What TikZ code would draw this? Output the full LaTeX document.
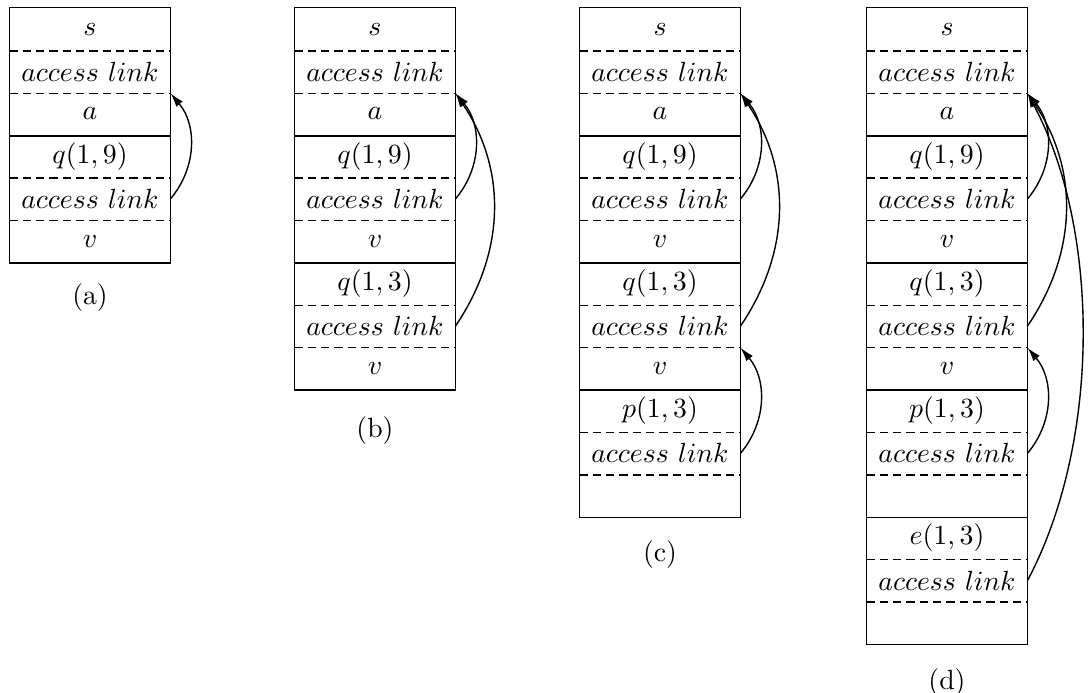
\documentclass[tikz,border=0pt]{standalone}
\usepackage{amsmath}
\usetikzlibrary{arrows.meta,positioning}

\tikzset{
  cell/.style={minimum width=57.6pt,minimum height=15.26pt,inner sep=0pt},
  sep/.style={dash pattern=on 3pt off 1.8pt,line width=0.5pt},
  frame/.style={line width=0.6pt},
  link/.style={-{Latex[length=5pt,width=3pt]},line width=0.5pt}
}

\begin{document}
\begin{tikzpicture}[x=0.36pt,y=0.36pt]
    \useasboundingbox (0,0) rectangle (1090,-692);

    % Stack (a)
    \foreach \txt [count=\i] in {$s$,$access\ link$,$a$,{$q(1,9)$},$access\ link$,$v$}
        \node[cell] (a\i) at (90,{-8-42.4*\i+21.2}) {\txt};
    \foreach \i in {1,2,4,5} \draw[sep] (a\i.south west) -- (a\i.south east);
    \draw[frame] (a3.south west) -- (a3.south east);
    \draw[frame] (a1.north west) rectangle (a6.south east);
    \draw[link] (a5.east) to[out=50,in=-50] (a2.south east);
    \node[below=4pt of a6] (la) {(a)};

    % Stack (b)
    \foreach \txt [count=\i] in {$s$,$access\ link$,$a$,{$q(1,9)$},$access\ link$,$v$,{$q(1,3)$},$access\ link$,$v$}
        \node[cell] (b\i) at (375,{-8-42.4*\i+21.2}) {\txt};
    \foreach \i in {1,2,4,5,7,8} \draw[sep] (b\i.south west) -- (b\i.south east);
    \foreach \i in {3,6} \draw[frame] (b\i.south west) -- (b\i.south east);
    \draw[frame] (b1.north west) rectangle (b9.south east);
    \draw[link] (b5.east) to[out=50,in=-50] (b2.south east);
    \draw[link] (b8.east) to[out=56,in=-56] (b2.south east);
    \node[below=6pt of b9] (lb) {(b)};

    % Stack (c)
    \foreach \txt [count=\i] in {$s$,$access\ link$,$a$,{$q(1,9)$},$access\ link$,$v$,{$q(1,3)$},$access\ link$,$v$,{$p(1,3)$},$access\ link$,{}}
        \node[cell] (c\i) at (660,{-8-42.4*\i+21.2}) {\txt};
    \foreach \i in {1,2,4,5,7,8,10,11} \draw[sep] (c\i.south west) -- (c\i.south east);
    \foreach \i in {3,6,9} \draw[frame] (c\i.south west) -- (c\i.south east);
    \draw[frame] (c1.north west) rectangle (c12.south east);
    \draw[link] (c5.east) to[out=50,in=-50] (c2.south east);
    \draw[link] (c8.east) to[out=56,in=-56] (c2.south east);
    \draw[link] (c11.east) to[out=50,in=-50] (c8.south east);
    \node[below=5pt of c12] (lc) {(c)};

    % Stack (d)
    \foreach \txt [count=\i] in {$s$,$access\ link$,$a$,{$q(1,9)$},$access\ link$,$v$,{$q(1,3)$},$access\ link$,$v$,{$p(1,3)$},$access\ link$,{},{$e(1,3)$},$access\ link$,{}}
        \node[cell] (d\i) at (947,{-8-42.4*\i+21.2}) {\txt};
    \foreach \i in {1,2,4,5,7,8,10,11,13,14} \draw[sep] (d\i.south west) -- (d\i.south east);
    \foreach \i in {3,6,9,12} \draw[frame] (d\i.south west) -- (d\i.south east);
    \draw[frame] (d1.north west) rectangle (d15.south east);
    \draw[link] (d5.east) to[out=50,in=-50] (d2.south east);
    \draw[link] (d8.east) to[out=56,in=-56] (d2.south east);
    \draw[link] (d11.east) to[out=50,in=-50] (d8.south east);
    \draw[link] (d14.east) to[out=62,in=-62,looseness=0.82] (d2.south east);
    \node[below=5pt of d15] (ld) {(d)};
\end{tikzpicture}
\end{document}
